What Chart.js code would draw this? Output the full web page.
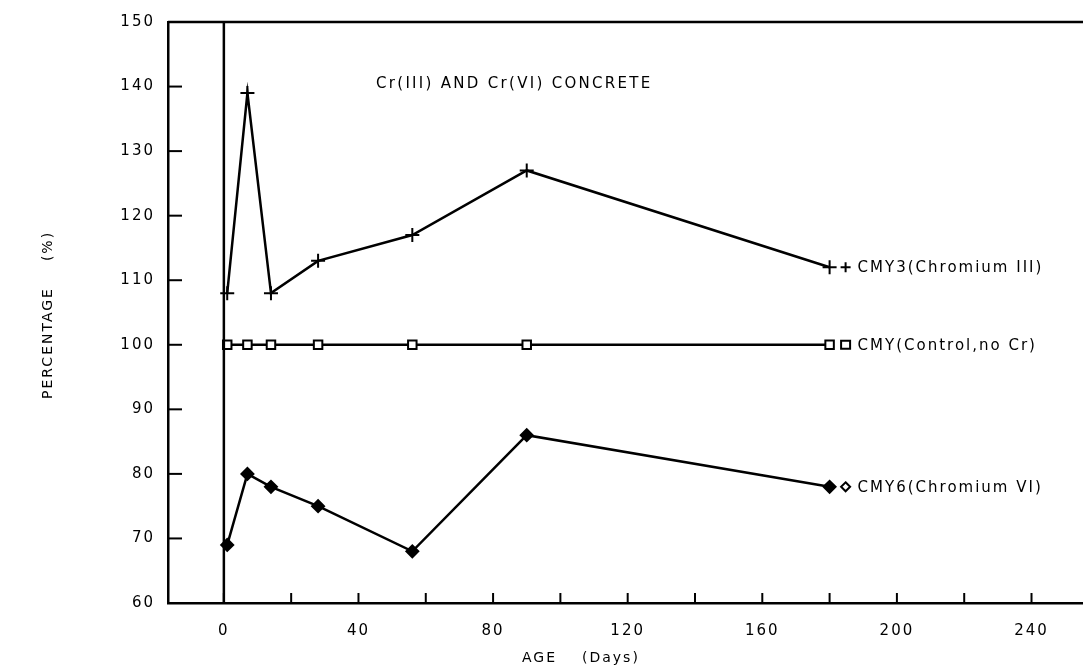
<!DOCTYPE html>
<html lang="en">
<head>
  <meta charset="UTF-8">
  <title>Cr(III) and Cr(VI) Concrete</title>
  <script src="https://cdn.jsdelivr.net/npm/chart.js"></script>
  <style>
    html, body { margin: 0; background: #fff; overflow: hidden; }
    .wrap { width: 1083px; height: 672px; position: relative; }
  </style>
</head>
<body>
  <div class="wrap">
    <canvas id="ageChart"></canvas>
  </div>

  <script>
    // age in days for every series
    const days = [1, 7, 14, 28, 56, 90, 180];
    const cmy3 = [108, 139, 108, 113, 117, 127, 112];
    const cmyControl = [100, 100, 100, 100, 100, 100, 100];
    const cmy6 = [69, 80, 78, 75, 68, 86, 78];
    const seriesNames = ['CMY3(Chromium III)', 'CMY(Control,no Cr)', 'CMY6(Chromium VI)'];
    const xTickValues = [0, 20, 40, 60, 80, 100, 120, 140, 160, 180, 200, 220, 240];
    const xLabelEvery = 40;   // ticks every 20, labels every 40
    const chartTitle = 'Cr(III) AND Cr(VI) CONCRETE';

    Chart.defaults.font.family = '"DejaVu Sans", sans-serif';
    Chart.defaults.font.size = 15;
    Chart.defaults.color = '#000';

    function pts(values) {
      return values.map((v, i) => ({ x: days[i], y: v }));
    }

    const markerStyles = ['cross', 'rect', 'rectRot'];

    // draws inward ticks, the top frame line, the zero line and the end labels
    const plotterBits = {
      id: 'plotterBits',
      beforeDraw(chart) {
        chart.ctx.letterSpacing = '2px';
      },
      afterDraw(chart) {
        const ctx = chart.ctx;
        const area = chart.chartArea;
        const xs = chart.scales.x;
        const ys = chart.scales.y;
        ctx.save();
        ctx.letterSpacing = '2px';
        ctx.strokeStyle = '#000';
        ctx.lineWidth = 2.5;

        // top frame line
        ctx.beginPath();
        ctx.moveTo(area.left, area.top);
        ctx.lineTo(area.right, area.top);
        ctx.stroke();

        // vertical line at day 0
        const x0 = xs.getPixelForValue(0);
        ctx.beginPath();
        ctx.moveTo(x0, area.top);
        ctx.lineTo(x0, area.bottom);
        ctx.stroke();

        // inward tick marks
        ctx.lineWidth = 2;
        xs.ticks.forEach(t => {
          const px = xs.getPixelForValue(t.value);
          ctx.beginPath();
          ctx.moveTo(px, area.bottom);
          ctx.lineTo(px, area.bottom - 10);
          ctx.stroke();
        });
        ys.ticks.forEach(t => {
          const py = ys.getPixelForValue(t.value);
          ctx.beginPath();
          ctx.moveTo(area.left, py);
          ctx.lineTo(area.left + 14, py);
          ctx.stroke();
        });

        // end-of-line labels
        ctx.font = '15px "DejaVu Sans", sans-serif';
        ctx.fillStyle = '#000';
        ctx.textBaseline = 'middle';
        ctx.textAlign = 'left';
        chart.data.datasets.forEach((ds, i) => {
          const last = ds.data[ds.data.length - 1];
          const py = ys.getPixelForValue(last.y);
          const mx = xs.getPixelForValue(last.x) + 16;
          ctx.lineWidth = 2;
          ctx.beginPath();
          if (i === 0) {
            ctx.moveTo(mx - 5, py); ctx.lineTo(mx + 5, py);
            ctx.moveTo(mx, py - 5); ctx.lineTo(mx, py + 5);
            ctx.stroke();
          } else if (i === 1) {
            ctx.fillStyle = '#fff';
            ctx.rect(mx - 4.5, py - 4, 9, 8);
            ctx.fill();
            ctx.stroke();
          } else {
            ctx.fillStyle = '#fff';
            ctx.moveTo(mx, py - 4.5); ctx.lineTo(mx + 4.5, py);
            ctx.lineTo(mx, py + 4.5); ctx.lineTo(mx - 4.5, py);
            ctx.closePath();
            ctx.fill();
            ctx.stroke();
          }
          ctx.fillStyle = '#000';
          ctx.fillText(seriesNames[i], mx + 12, py + 1);
        });

        // chart title and axis titles
        ctx.letterSpacing = '2.3px';
        ctx.font = '15px "DejaVu Sans", sans-serif';
        ctx.fillText(chartTitle, 376, 84);
        ctx.letterSpacing = '2px';
        ctx.font = '14px "DejaVu Sans", sans-serif';
        ctx.fillText('AGE', 522, 658);
        ctx.fillText('(Days)', 582, 658);
        ctx.translate(48, 0);
        ctx.rotate(-Math.PI / 2);
        ctx.textAlign = 'center';
        ctx.fillText('PERCENTAGE', -343, 0);
        ctx.fillText('(%)', -246, 0);
        ctx.restore();
      }
    };

    function createChart() {
      const ctx = document.getElementById('ageChart').getContext('2d');
      new Chart(ctx, {
        type: 'line',
        data: {
          datasets: [cmy3, cmyControl, cmy6].map((vals, i) => ({
            label: seriesNames[i],
            data: pts(vals),
            borderColor: '#000',
            borderWidth: 2.5,
            backgroundColor: i === 1 ? '#fff' : '#000',
            pointStyle: markerStyles[i],
            pointRadius: i === 0 ? 7 : 6,
            pointBorderWidth: 2,
            pointBorderColor: '#000',
            tension: 0
          }))
        },
        options: {
          responsive: true,
          maintainAspectRatio: false,
          animation: false,
          layout: { autoPadding: false, padding: { top: 18, right: 0, left: 0, bottom: 0 } },
          plugins: {
            legend: { display: false },
            tooltip: { enabled: false }
          },
          scales: {
            x: {
              type: 'linear',
              min: -16.6,
              max: 255.3,
              grid: { drawOnChartArea: false, drawTicks: false },
              border: { display: true, color: '#000', width: 2.5 },
              afterBuildTicks: s => { s.ticks = xTickValues.map(v => ({ value: v })); },
              ticks: {
                padding: 19,
                autoSkip: false,
                maxRotation: 0,
                callback: v => (v % xLabelEvery === 0 ? String(v) : '')
              },
              afterFit: s => { s.height = 69; }
            },
            y: {
              min: 60,
              max: 150,
              grid: { drawOnChartArea: false, drawTicks: false },
              border: { display: true, color: '#000', width: 2.5 },
              ticks: { stepSize: 10, padding: 13 },
              afterFit: s => { s.width = 168; }
            }
          }
        },
        plugins: [plotterBits]
      });
    }

    createChart();
  </script>
</body>
</html>
